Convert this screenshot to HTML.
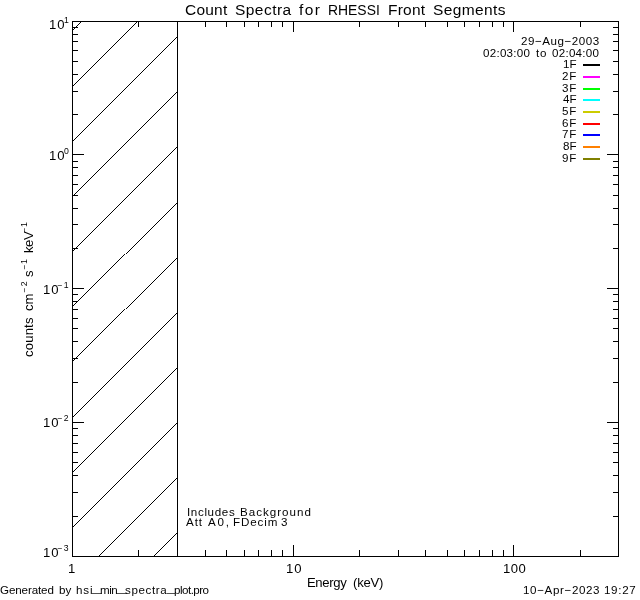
<!DOCTYPE html>
<html lang="en"><head><meta charset="utf-8"><title>Count Spectra for RHESSI Front Segments</title>
<style>
html,body{margin:0;padding:0;background:#fff;overflow:hidden}
svg{display:block}
text{font-family:"Liberation Sans",sans-serif;fill:#000}
</style></head><body>
<svg width="640" height="600" viewBox="0 0 640 600">
<rect width="640" height="600" fill="#fff"/>
<g shape-rendering="crispEdges" stroke="#000" stroke-width="1" fill="none">
<path d="M72.5 30.5L81.5 21.5M72.5 86.5L137.5 21.5M72.5 141.5L177.5 36.5M72.5 196.5L177.5 91.5M72.5 251.5L177.5 146.5M72.5 306.5L124.5 254.5M125.5 254.5L177.5 202.5M72.5 361.5L124.5 309.5M125.5 309.5L177.5 257.5M72.5 417.5L177.5 312.5M72.5 472.5L177.5 367.5M72.5 527.5L177.5 422.5M98.5 556.5L177.5 477.5M153.5 556.5L177.5 532.5"/>
<path d="M72 21.5H619M72 556.5H619M72.5 21V557M618.5 21V557M177.5 21V557M138.5 550V557M138.5 21V27M177.5 550V557M177.5 21V27M205.5 550V557M205.5 21V27M226.5 550V557M226.5 21V27M244.5 550V557M244.5 21V27M258.5 550V557M258.5 21V27M271.5 550V557M271.5 21V27M282.5 550V557M282.5 21V27M293.5 545V557M293.5 21V32M359.5 550V557M359.5 21V27M398.5 550V557M398.5 21V27M425.5 550V557M425.5 21V27M447.5 550V557M447.5 21V27M464.5 550V557M464.5 21V27M479.5 550V557M479.5 21V27M492.5 550V557M492.5 21V27M503.5 550V557M503.5 21V27M513.5 545V557M513.5 21V32M580.5 550V557M580.5 21V27M72 516.5H78M613 516.5H619M72 492.5H78M613 492.5H619M72 475.5H78M613 475.5H619M72 462.5H78M613 462.5H619M72 452.5H78M613 452.5H619M72 443.5H78M613 443.5H619M72 435.5H78M613 435.5H619M72 428.5H78M613 428.5H619M72 422.5H84M607 422.5H619M72 382.5H78M613 382.5H619M72 358.5H78M613 358.5H619M72 341.5H78M613 341.5H619M72 328.5H78M613 328.5H619M72 318.5H78M613 318.5H619M72 309.5H78M613 309.5H619M72 301.5H78M613 301.5H619M72 294.5H78M613 294.5H619M72 288.5H84M607 288.5H619M72 248.5H78M613 248.5H619M72 224.5H78M613 224.5H619M72 208.5H78M613 208.5H619M72 195.5H78M613 195.5H619M72 184.5H78M613 184.5H619M72 175.5H78M613 175.5H619M72 167.5H78M613 167.5H619M72 161.5H78M613 161.5H619M72 154.5H84M607 154.5H619M72 114.5H78M613 114.5H619M72 91.5H78M613 91.5H619M72 74.5H78M613 74.5H619M72 61.5H78M613 61.5H619M72 50.5H78M613 50.5H619M72 41.5H78M613 41.5H619M72 34.5H78M613 34.5H619M72 27.5H78M613 27.5H619"/>
</g>
<g shape-rendering="crispEdges">
<rect x="583" y="64" width="17" height="2" fill="#000000"/>
<rect x="583" y="76" width="17" height="2" fill="#ff00ff"/>
<rect x="583" y="88" width="17" height="2" fill="#00ff00"/>
<rect x="583" y="99" width="17" height="2" fill="#00ffff"/>
<rect x="583" y="111" width="17" height="2" fill="#cccc00"/>
<rect x="583" y="123" width="17" height="2" fill="#ff0000"/>
<rect x="583" y="134" width="17" height="2" fill="#0000ff"/>
<rect x="583" y="146" width="17" height="2" fill="#ff8000"/>
<rect x="583" y="158" width="17" height="2" fill="#808000"/>
</g>
<g opacity="0.999">
<text x="185.00" y="15" font-size="15.5" style="letter-spacing:0.225px">Count</text>
<text x="235.00" y="15" font-size="15.5" style="letter-spacing:0.450px">Spectra</text>
<text x="299.00" y="15" font-size="15.5" style="letter-spacing:1.350px">for</text>
<text x="328.00" y="15" font-size="15.5" textLength="51.80" lengthAdjust="spacingAndGlyphs">RHESSI</text>
<text x="388.00" y="15" font-size="15.5" style="letter-spacing:0.225px">Front</text>
<text x="433.00" y="15" font-size="15.5" style="letter-spacing:0.386px">Segments</text>
<text x="68.00" y="573" font-size="13.1">1</text>
<text x="286.00" y="573" font-size="13.1" style="letter-spacing:0.900px">10</text>
<text x="503.00" y="573" font-size="13.1" style="letter-spacing:0.450px">100</text>
<text x="307.00" y="587" font-size="13.1" style="letter-spacing:-0.360px">Energy</text>
<text x="353.00" y="587" font-size="13.1" style="letter-spacing:-0.225px">(keV)</text>
<text x="49.00" y="29" font-size="13.1" style="letter-spacing:0.900px">10</text>
<text x="64.00" y="23" font-size="8.7">1</text>
<text x="49.00" y="160" font-size="13.1" style="letter-spacing:0.900px">10</text>
<text x="64.00" y="154" font-size="8.7">0</text>
<text x="43.00" y="294" font-size="13.1" style="letter-spacing:0.900px">10</text>
<text x="57.00" y="288" font-size="8.7" style="letter-spacing:1.800px">−1</text>
<text x="43.00" y="427" font-size="13.1" style="letter-spacing:0.900px">10</text>
<text x="57.00" y="421" font-size="8.7" style="letter-spacing:1.800px">−2</text>
<text x="43.00" y="557" font-size="13.1" style="letter-spacing:0.900px">10</text>
<text x="57.00" y="551" font-size="8.7" style="letter-spacing:1.800px">−3</text>
<text transform="translate(33 357.00) rotate(-90)" font-size="13.1" style="letter-spacing:0.180px">counts</text>
<text transform="translate(33 311.00) rotate(-90)" font-size="13.1">cm</text>
<text transform="translate(27 293.00) rotate(-90)" font-size="8.7" style="letter-spacing:1.800px">−2</text>
<text transform="translate(33 277.00) rotate(-90)" font-size="13.1">s</text>
<text transform="translate(27 270.00) rotate(-90)" font-size="8.7" style="letter-spacing:0.900px">−1</text>
<text transform="translate(33 253.00) rotate(-90)" font-size="13.1" style="letter-spacing:-0.450px">keV</text>
<text transform="translate(27 233.00) rotate(-90)" font-size="8.7" style="letter-spacing:0.900px">−1</text>
<text x="521.00" y="45" font-size="11.6" style="letter-spacing:0.540px">29−Aug−2003</text>
<text x="483.00" y="57" font-size="11.6" style="letter-spacing:0.257px">02:03:00</text>
<text x="536.00" y="57" font-size="11.6" style="letter-spacing:0.900px">to</text>
<text x="552.00" y="57" font-size="11.6" style="letter-spacing:0.257px">02:04:00</text>
<text x="563.00" y="68" font-size="11.6">1F</text>
<text x="562.00" y="80" font-size="11.6" style="letter-spacing:0.900px">2F</text>
<text x="562.00" y="92" font-size="11.6" style="letter-spacing:0.900px">3F</text>
<text x="563.00" y="103" font-size="11.6">4F</text>
<text x="562.00" y="115" font-size="11.6" style="letter-spacing:0.900px">5F</text>
<text x="562.00" y="127" font-size="11.6" style="letter-spacing:0.900px">6F</text>
<text x="562.00" y="138" font-size="11.6" style="letter-spacing:0.900px">7F</text>
<text x="563.00" y="150" font-size="11.6">8F</text>
<text x="562.00" y="162" font-size="11.6" style="letter-spacing:0.900px">9F</text>
<text x="187.00" y="516" font-size="11.6" style="letter-spacing:0.643px">Includes</text>
<text x="240.00" y="516" font-size="11.6" style="letter-spacing:1.000px">Background</text>
<text x="186.00" y="526" font-size="11.6" style="letter-spacing:0.900px">Att</text>
<text x="208.00" y="526" font-size="11.6" style="letter-spacing:1.800px">A0,</text>
<text x="233.00" y="526" font-size="11.6" style="letter-spacing:0.900px">FDecim</text>
<text x="281.00" y="526" font-size="11.6">3</text>
<text x="0.00" y="594" font-size="11.6" style="letter-spacing:-0.113px">Generated</text>
<text x="59.00" y="594" font-size="11.6">by</text>
<text x="76.00" y="594" font-size="11.6" style="letter-spacing:0.900px">hsi</text>
<text x="92.00" y="592" font-size="11.6" textLength="9.5" lengthAdjust="spacingAndGlyphs">_</text>
<text x="100.00" y="594" font-size="11.6" style="letter-spacing:-0.450px">min</text>
<text x="117.00" y="592" font-size="11.6" textLength="9.5" lengthAdjust="spacingAndGlyphs">_</text>
<text x="125.00" y="594" font-size="11.6" style="letter-spacing:0.600px">spectra</text>
<text x="167.00" y="592" font-size="11.6" textLength="8" lengthAdjust="spacingAndGlyphs">_</text>
<text x="174.00" y="594" font-size="11.6" style="letter-spacing:-0.514px">plot.pro</text>
<text x="523.00" y="594" font-size="11.6" style="letter-spacing:0.630px">10−Apr−2023</text>
<text x="604.00" y="594" font-size="11.6" style="letter-spacing:0.675px">19:27</text>
</g>
</svg>
</body></html>
